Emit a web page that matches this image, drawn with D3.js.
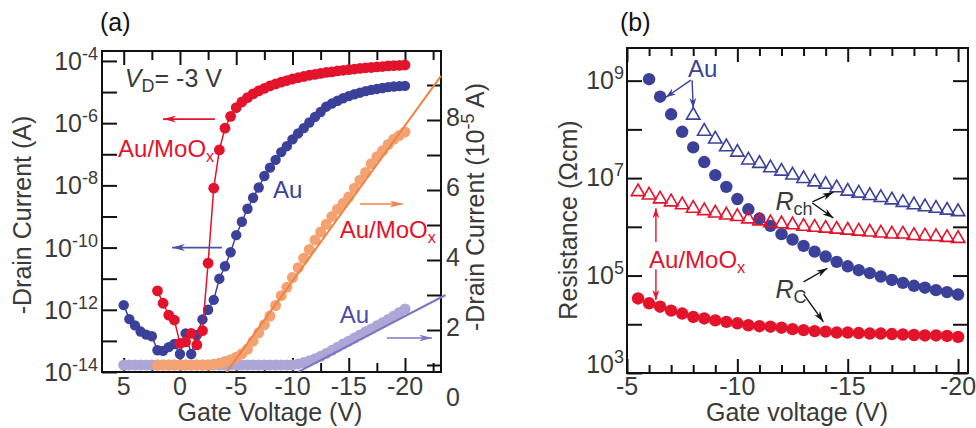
<!DOCTYPE html>
<html>
<head>
<meta charset="utf-8">
<script src="https://cdn.jsdelivr.net/npm/d3@7"></script>
<style>
  body { margin: 0; background: #fff; }
  svg { display: block; font-family: "Liberation Sans", Arial, Helvetica, sans-serif; }
</style>
</head>
<body>
<svg id="chart" width="976" height="428"></svg>
<script>
// ---------------- panel (a): transfer curves ----------------
// gate voltage (V)
const vgAu = [5, 4.5, 4, 3.5, 3, 2.5, 2, 1.5, 1, 0.5, 0, -0.5, -1, -1.5, -2, -2.5, -3, -3.5, -4, -4.5,
  -5, -5.5, -6, -6.5, -7, -7.5, -8, -8.5, -9, -9.5, -10, -10.5, -11, -11.5, -12, -12.5, -13, -13.5,
  -14, -14.5, -15, -15.5, -16, -16.5, -17, -17.5, -18, -18.5, -19, -19.5, -20];
const vgMoOx = [2, 1.5, 1, 0.5, 0, -0.5, -1, -1.5, -2, -2.5, -3, -3.5, -4, -4.5,
  -5, -5.5, -6, -6.5, -7, -7.5, -8, -8.5, -9, -9.5, -10, -10.5, -11, -11.5, -12, -12.5, -13, -13.5,
  -14, -14.5, -15, -15.5, -16, -16.5, -17, -17.5, -18, -18.5, -19, -19.5, -20];

// log10 of -Id (A), left axis
const logIdAu = [-11.85, -12.3, -12.5, -12.7, -12.8, -12.85, -13.3, -13.32, -13.2, -13.1, -13.42,
  -12.76, -13.42, -12.81, -12.31, -12.0, -11.68, -11.0, -10.6, -10.15, -9.6, -9.17, -8.75, -8.4,
  -8.07, -7.7, -7.43, -7.18, -6.93, -6.74, -6.52, -6.33, -6.16, -5.98, -5.8, -5.64, -5.47, -5.37,
  -5.28, -5.2, -5.13, -5.07, -5.02, -4.97, -4.93, -4.9, -4.87, -4.84, -4.82, -4.81, -4.8];
const logIdMoOx = [-11.39, -11.79, -12.17, -12.33, -13.08, -13.03, -12.76, -13.13, -12.67, -10.5,
  -8.09, -6.86, -6.16, -5.78, -5.5, -5.32, -5.18, -5.06, -4.96, -4.88, -4.8, -4.74, -4.68, -4.63,
  -4.58, -4.54, -4.5, -4.46, -4.43, -4.4, -4.37, -4.35, -4.32, -4.3, -4.28, -4.26, -4.24, -4.22,
  -4.21, -4.19, -4.18, -4.16, -4.15, -4.14, -4.13];

// -Id in 1e-5 A, right axis
const linIdAu = [1, 1, 1, 1, 1, 1, 1, 1, 1, 1, 1, 1, 1, 1, 1, 1, 1, 1, 1, 1, 1, 1, 1, 1, 1, 1, 1, 1,
  1, 1, 1, 1.03, 1.07, 1.12, 1.18, 1.25, 1.33, 1.42, 1.51, 1.6, 1.68, 1.77, 1.86, 1.95, 2.03, 2.12,
  2.21, 2.3, 2.4, 2.5, 2.6];
const linIdMoOx = [1, 1, 1, 1, 1, 1, 1, 1, 1, 1, 1.02, 1.05, 1.1, 1.15, 1.22, 1.32, 1.45, 1.68,
  1.92, 2.15, 2.4, 2.7, 2.98, 3.22, 3.5, 3.78, 4.05, 4.3, 4.57, 4.8, 5.02, 5.24, 5.45, 5.62, 5.8,
  6.05, 6.28, 6.5, 6.75, 6.95, 7.12, 7.3, 7.45, 7.56, 7.66];

// linear fits (V, 1e-5 A)
const fitAuV = [-10.5, -23.6], fitAuI = [0.8, 3.0];
const fitMoOxV = [-4.15, -23.2], fitMoOxI = [0.8, 9.26];

const aLogTicks = [-14, -13, -12, -11, -10, -9, -8, -7, -6, -5, -4];
const aLogLabels = [-14, -12, -10, -8, -6, -4];
const aLinTicks = [1, 2, 3, 4, 5, 6, 7, 8, 9];
const aLinLabels = [0, 2, 4, 6, 8];
const aXMajor = [5, 0, -5, -10, -15, -20];
const aXMinor = [2.5, -2.5, -7.5, -12.5, -17.5, -22.5];

// ---------------- panel (b): resistances ----------------
const vgB = [-5.5, -6, -6.5, -7, -7.5, -8, -8.5, -9, -9.5, -10, -10.5, -11, -11.5, -12, -12.5,
  -13, -13.5, -14, -14.5, -15, -15.5, -16, -16.5, -17, -17.5, -18, -18.5, -19, -19.5, -20];
const logRcMoOx = [4.53, 4.43, 4.36, 4.28, 4.22, 4.15, 4.12, 4.08, 4.05, 4.02, 3.98, 3.96, 3.95,
  3.93, 3.9, 3.88, 3.86, 3.85, 3.83, 3.83, 3.82, 3.81, 3.81, 3.8, 3.79, 3.78, 3.77, 3.77, 3.76, 3.74];
const logRchMoOx = [6.72, 6.65, 6.57, 6.51, 6.45, 6.38, 6.33, 6.28, 6.24, 6.21, 6.16, 6.12, 6.08,
  6.06, 6.04, 6.01, 5.99, 5.97, 5.95, 5.93, 5.91, 5.89, 5.87, 5.85, 5.85, 5.82, 5.81, 5.8, 5.78, 5.76];
const vgRcAu = vgB.slice(1);   // -6 .. -20
const logRcAu = [9.03, 8.67, 8.31, 7.95, 7.63, 7.33, 7.06, 6.82, 6.57, 6.36, 6.17, 6.02, 5.85,
  5.74, 5.61, 5.49, 5.39, 5.28, 5.19, 5.11, 5.05, 4.98, 4.91, 4.85, 4.79, 4.75, 4.7, 4.66, 4.61];
const vgRchAu = vgB.slice(5);  // -8 .. -20
const logRchAu = [8.29, 7.96, 7.8, 7.64, 7.53, 7.37, 7.3, 7.21, 7.14, 7.06, 6.99, 6.92, 6.87,
  6.8, 6.73, 6.69, 6.64, 6.6, 6.55, 6.5, 6.45, 6.41, 6.38, 6.34, 6.31];

const bLogTicks = [3, 4, 5, 6, 7, 8, 9];
const bLogLabels = [3, 5, 7, 9];
const bXMajor = [-5, -10, -15, -20];
const bXMinor = [-6, -7, -8, -9, -11, -12, -13, -14, -16, -17, -18, -19];

// ---------------- styles ----------------
const RED = "#e3132c", BLUE = "#3b4199", ORANGE = "#f4a271", ORANGE_LINE = "#ee8443";
const LAV = "#aca7d6", LAV_LINE = "#7d76c2", INK = "#3a3a3a";
const FS = 25;   // tick labels and axis titles

const svg = d3.select("#chart");
const defs = svg.append("defs");

function arrowHead(id, color, len, w) {
  defs.append("marker")
    .attr("id", id)
    .attr("viewBox", `0 ${-w} ${len} ${2 * w}`)
    .attr("refX", len).attr("refY", 0)
    .attr("markerWidth", len).attr("markerHeight", 2 * w)
    .attr("markerUnits", "userSpaceOnUse")
    .attr("orient", "auto")
    .append("path")
    .attr("d", `M0,${-w}L${len},0L0,${w}L${len * 0.3},0Z`)
    .attr("fill", color);
}
arrowHead("ahRed", RED, 13, 3.5);
arrowHead("ahBlue", "#4a50a8", 13, 3.5);
arrowHead("ahOrange", ORANGE_LINE, 13, 3.5);
arrowHead("ahLav", LAV_LINE, 13, 3.5);
arrowHead("bhBlue", BLUE, 10, 3.5);
arrowHead("bhRed", RED, 10, 3.5);
arrowHead("bhBlack", "#111", 11, 3.5);

function arrow(g, x1, y1, x2, y2, color, marker, w = 1.6) {
  g.append("line").attr("x1", x1).attr("y1", y1).attr("x2", x2).attr("y2", y2)
    .attr("stroke", color).attr("stroke-width", w).attr("marker-end", `url(#${marker})`);
}

function moox(g, x, y, color, size = 24) {
  const t = g.append("text").attr("x", x).attr("y", y).attr("fill", color).attr("font-size", size);
  t.append("tspan").text("Au/MoO");
  t.append("tspan").attr("dy", 5).attr("font-size", size * 0.68).text("x");
  return t;
}

function powLabel(g, x, y, exp, anchor) {
  const t = g.append("text").attr("x", x).attr("y", y).attr("text-anchor", anchor)
    .attr("fill", INK).attr("font-size", FS);
  t.append("tspan").text("10");
  t.append("tspan").attr("dy", -10).attr("font-size", 18).text(exp);
}

function styleAxis(g) {
  g.select(".domain").remove();
  g.selectAll(".tick line").attr("stroke", "#111").attr("stroke-width", 2);
}

// ================= panel (a) =================
const A = { left: 102, right: 441, top: 51, bottom: 372 };
const xA = d3.scaleLinear().domain([6.93, -23.2]).range([A.left, A.right]);
const yA = d3.scaleLog().domain([1e-14, Math.pow(10, -3.68)]).range([A.bottom, A.top]);
const yA2 = d3.scaleLinear().domain([0, 10]).range([400, 50]);

const ga = svg.append("g");

defs.append("clipPath").attr("id", "clipA").append("rect")
  .attr("x", A.left).attr("y", A.top).attr("width", A.right - A.left + 5).attr("height", A.bottom - A.top);

// axes (ticks inward)
ga.append("g").attr("transform", `translate(${A.left},0)`)
  .call(d3.axisLeft(yA).tickValues(aLogTicks.map(e => Math.pow(10, e))).tickSize(-15).tickFormat(""))
  .call(styleAxis);
ga.append("g").attr("transform", `translate(${A.right},0)`)
  .call(d3.axisRight(yA2).tickValues(aLinTicks).tickSize(-14).tickFormat(""))
  .call(styleAxis);
[[d3.axisBottom, A.bottom], [d3.axisTop, A.top]].forEach(([ax, y]) => {
  ga.append("g").attr("transform", `translate(0,${y})`)
    .call(ax(xA).tickValues(aXMajor).tickSize(-14).tickFormat("")).call(styleAxis);
  ga.append("g").attr("transform", `translate(0,${y})`)
    .call(ax(xA).tickValues(aXMinor).tickSize(-9).tickFormat("")).call(styleAxis);
});
ga.append("rect").attr("x", A.left).attr("y", A.top)
  .attr("width", A.right - A.left).attr("height", A.bottom - A.top)
  .attr("fill", "none").attr("stroke", "#111").attr("stroke-width", 2);

// tick labels
aLogLabels.forEach(e => powLabel(ga, A.left - 4, yA(Math.pow(10, e)) + 9, e, "end"));
aLinLabels.forEach(v => ga.append("text").attr("x", A.right + 5).attr("y", yA2(v) + 6)
  .attr("fill", INK).attr("font-size", FS).text(v));
aXMajor.forEach(v => ga.append("text").attr("x", xA(v)).attr("y", 395)
  .attr("text-anchor", "middle").attr("fill", INK).attr("font-size", FS).text(v));

// axis titles
ga.append("text").attr("x", 270).attr("y", 421).attr("text-anchor", "middle")
  .attr("fill", INK).attr("font-size", FS).text("Gate Voltage (V)");
ga.append("text").attr("transform", "translate(31,215) rotate(-90)").attr("text-anchor", "middle")
  .attr("fill", INK).attr("font-size", FS).text("-Drain Current (A)");
{
  const t = ga.append("text").attr("transform", "translate(484,207) rotate(-90)")
    .attr("text-anchor", "middle").attr("fill", INK).attr("font-size", FS);
  t.append("tspan").text("-Drain Current (10");
  t.append("tspan").attr("dy", -10).attr("font-size", 18).text("-5");
  t.append("tspan").attr("dy", 10).text(" A)");
}
ga.append("text").attr("x", 100).attr("y", 31).attr("fill", "#111").attr("font-size", FS).text("(a)");

// data
const plotA = ga.append("g").attr("clip-path", "url(#clipA)");
const lavData = vgAu.map((v, i) => ({ v, i: linIdAu[i] }));
const orData = vgMoOx.map((v, i) => ({ v, i: linIdMoOx[i] }));
const auData = vgAu.map((v, i) => ({ v, i: logIdAu[i] }));
const moData = vgMoOx.map((v, i) => ({ v, i: logIdMoOx[i] }));

plotA.selectAll(".lav").data(lavData).join("circle")
  .attr("cx", d => xA(d.v)).attr("cy", d => yA2(d.i)).attr("r", 5.5).attr("fill", LAV);
plotA.selectAll(".or").data(orData).join("circle")
  .attr("cx", d => xA(d.v)).attr("cy", d => yA2(d.i)).attr("r", 5.5).attr("fill", ORANGE);

const linFit = d3.line().x(d => xA(d[0])).y(d => yA2(d[1]));
plotA.append("path").attr("d", linFit(d3.zip(fitAuV, fitAuI)))
  .attr("fill", "none").attr("stroke", LAV_LINE).attr("stroke-width", 2);
plotA.append("path").attr("d", linFit(d3.zip(fitMoOxV, fitMoOxI)))
  .attr("fill", "none").attr("stroke", ORANGE_LINE).attr("stroke-width", 2);

const logLine = d3.line().x(d => xA(d.v)).y(d => yA(Math.pow(10, d.i)));
plotA.append("path").attr("d", logLine(auData)).attr("fill", "none").attr("stroke", BLUE).attr("stroke-width", 1.5);
plotA.append("g").selectAll("circle").data(auData).join("circle")
  .attr("cx", d => xA(d.v)).attr("cy", d => yA(Math.pow(10, d.i))).attr("r", 5.2).attr("fill", BLUE);
plotA.append("path").attr("d", logLine(moData)).attr("fill", "none").attr("stroke", RED).attr("stroke-width", 1.5);
plotA.append("g").selectAll("circle").data(moData).join("circle")
  .attr("cx", d => xA(d.v)).attr("cy", d => yA(Math.pow(10, d.i))).attr("r", 5.4).attr("fill", RED);

// annotations (a)
{
  const t = ga.append("text").attr("x", xA(4.9)).attr("y", yA(Math.pow(10, -4.84)))
    .attr("fill", INK).attr("font-size", FS);
  t.append("tspan").attr("font-style", "italic").text("V");
  t.append("tspan").attr("dy", 5).attr("font-size", 18).text("D");
  t.append("tspan").attr("dy", -5).text("= -3 V");
}
arrow(ga, xA(-3.1), yA(Math.pow(10, -5.87)), xA(1.5), yA(Math.pow(10, -5.87)), RED, "ahRed");
moox(ga, xA(5.5), yA(Math.pow(10, -7.09)), RED);
arrow(ga, xA(-3.73), yA(1e-10), xA(0.71), yA(1e-10), "#4a50a8", "ahBlue");
ga.append("text").attr("x", xA(-8.27)).attr("y", yA(Math.pow(10, -8.4)))
  .attr("fill", BLUE).attr("font-size", 24).text("Au");
arrow(ga, xA(-16), yA2(5.6), xA(-19.8), yA2(5.6), ORANGE_LINE, "ahOrange");
moox(ga, xA(-14.2), yA2(4.63), RED);
ga.append("text").attr("x", xA(-14.2)).attr("y", yA2(2.2))
  .attr("fill", "#4b4ba6").attr("font-size", 24).text("Au");
arrow(ga, xA(-18.4), yA2(1.77), xA(-22.4), yA2(1.77), LAV_LINE, "ahLav");

// ================= panel (b) =================
const B = { left: 627, right: 968, top: 48, bottom: 373 };
const xB = d3.scaleLinear().domain([-5, -20.45]).range([B.left, B.right]);
const yB = d3.scaleLog().domain([1e3, Math.pow(10, 9.67)]).range([B.bottom, B.top]);
const gb = svg.append("g");

gb.append("g").attr("transform", `translate(${B.left},0)`)
  .call(d3.axisLeft(yB).tickValues(bLogTicks.map(e => Math.pow(10, e))).tickSize(-15).tickFormat(""))
  .call(styleAxis);
gb.append("g").attr("transform", `translate(${B.right},0)`)
  .call(d3.axisRight(yB).tickValues(bLogTicks.map(e => Math.pow(10, e))).tickSize(-15).tickFormat(""))
  .call(styleAxis);
[[d3.axisBottom, B.bottom], [d3.axisTop, B.top]].forEach(([ax, y]) => {
  gb.append("g").attr("transform", `translate(0,${y})`)
    .call(ax(xB).tickValues(bXMajor).tickSize(-14).tickFormat("")).call(styleAxis);
  gb.append("g").attr("transform", `translate(0,${y})`)
    .call(ax(xB).tickValues(bXMinor).tickSize(-8).tickFormat("")).call(styleAxis);
});
gb.append("rect").attr("x", B.left).attr("y", B.top)
  .attr("width", B.right - B.left).attr("height", B.bottom - B.top)
  .attr("fill", "none").attr("stroke", "#111").attr("stroke-width", 2);

// the lowest label sits flush with the frame bottom, as in the figure
bLogLabels.forEach(e => powLabel(gb, B.left - 3,
  yB(Math.pow(10, e)) + (e === bLogLabels[0] ? 0 : 8), e, "end"));
bXMajor.forEach(v => gb.append("text").attr("x", xB(v)).attr("y", 395)
  .attr("text-anchor", "middle").attr("fill", INK).attr("font-size", FS).text(v));
gb.append("text").attr("x", 797).attr("y", 421).attr("text-anchor", "middle")
  .attr("fill", INK).attr("font-size", FS).text("Gate voltage (V)");
gb.append("text").attr("transform", "translate(577,220) rotate(-90)").attr("text-anchor", "middle")
  .attr("fill", INK).attr("font-size", FS).text("Resistance (\u03A9cm)");
gb.append("text").attr("x", 620).attr("y", 31).attr("fill", "#111").attr("font-size", FS).text("(b)");

const tri = d3.symbol().type(d3.symbolTriangle).size(78);
function dots(data, color) {
  gb.append("g").selectAll("circle").data(data).join("circle")
    .attr("cx", d => xB(d[0])).attr("cy", d => yB(Math.pow(10, d[1]))).attr("r", 6.2).attr("fill", color);
}
function tris(data, color) {
  gb.append("g").selectAll("path").data(data).join("path")
    .attr("d", tri)
    .attr("transform", d => `translate(${xB(d[0])},${yB(Math.pow(10, d[1]))})`)
    .attr("fill", "none").attr("stroke", color).attr("stroke-width", 1.6);
}
dots(d3.zip(vgB, logRcMoOx), RED);
dots(d3.zip(vgRcAu, logRcAu), BLUE);
tris(d3.zip(vgB, logRchMoOx), RED);
tris(d3.zip(vgRchAu, logRchAu), BLUE);

// annotations (b)
const P = (v, e) => [xB(v), yB(Math.pow(10, e))];
function barrow(from, to, color, marker) {
  arrow(gb, from[0], from[1], to[0], to[1], color, marker, 1.4);
}
gb.append("text").attr("x", P(-8.43, 9.07)[0]).attr("y", P(-8.43, 9.07)[1])
  .attr("text-anchor", "middle").attr("fill", BLUE).attr("font-size", 24).text("Au");
barrow(P(-7.89, 9.01), P(-6.76, 8.66), BLUE, "bhBlue");
barrow(P(-7.95, 9.01), P(-8.0, 8.44), BLUE, "bhBlue");

function rLabel(v, e, sub) {
  const t = gb.append("text").attr("x", P(v, e)[0]).attr("y", P(v, e)[1])
    .attr("fill", INK).attr("font-size", FS);
  t.append("tspan").attr("font-style", "italic").text("R");
  t.append("tspan").attr("dy", 5).attr("font-size", 18).text(sub);
}
rLabel(-11.73, 6.34, "ch");
barrow(P(-13.4, 6.51), P(-14.35, 6.71), "#111", "bhBlack");
barrow(P(-13.4, 6.49), P(-14.35, 6.18), "#111", "bhBlack");
rLabel(-11.73, 4.54, "C");
barrow(P(-13.0, 4.87), P(-14.08, 5.15), "#111", "bhBlack");
barrow(P(-13.0, 4.62), P(-13.9, 4.05), "#111", "bhBlack");

moox(gb, P(-6.0, 5.15)[0], P(-6.0, 5.15)[1], RED);
barrow(P(-6.31, 5.69), P(-6.31, 6.38), RED, "bhRed");
barrow(P(-6.31, 5.13), P(-6.31, 4.5), RED, "bhRed");
</script>
</body>
</html>
